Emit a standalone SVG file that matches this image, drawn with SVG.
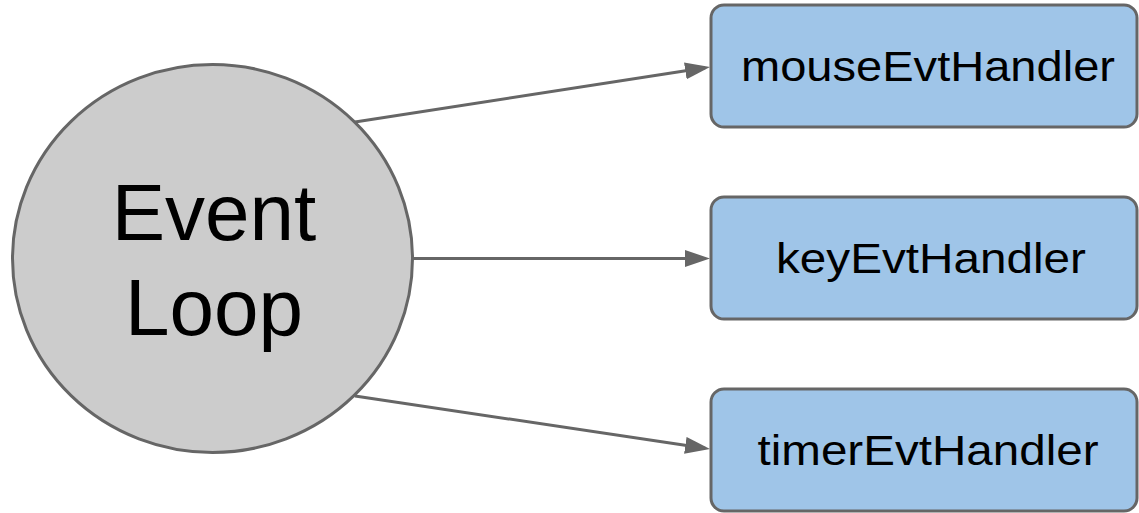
<svg xmlns="http://www.w3.org/2000/svg" width="1139" height="513" viewBox="0 0 1139 513">
  <style>
    .box { fill: #9fc5e8; stroke: #666666; stroke-width: 3; }
    .circ { fill: #cccccc; stroke: #666666; stroke-width: 3; }
    .lbl { font-family: "Liberation Sans", Arial, sans-serif; font-size: 42px; fill: #000000; text-anchor: middle; }
    .big { font-family: "Liberation Sans", Arial, sans-serif; font-size: 80px; fill: #000000; text-anchor: middle; }
    .conn { stroke: #666666; stroke-width: 3; fill: none; marker-end: url(#arrow); }
  </style>
  <defs>
    <marker id="arrow" markerUnits="userSpaceOnUse" markerWidth="26" markerHeight="18" refX="20" refY="8.5" orient="auto">
      <path d="M0,0 L25,8.5 L0,17 z" fill="#666666"/>
    </marker>
  </defs>
  <rect width="1139" height="513" fill="#ffffff"/>
  <g id="connectors">
    <line class="conn" x1="355" y1="122" x2="705.1" y2="67.8"/>
    <line class="conn" x1="413" y1="258.5" x2="705" y2="258.5"/>
    <line class="conn" x1="355" y1="396" x2="705.1" y2="448.3"/>
  </g>
  <g id="event-loop">
    <ellipse class="circ" cx="212.5" cy="258.5" rx="200" ry="194"/>
    <text class="big" x="214" y="240">Event</text>
    <text class="big" x="214" y="335">Loop</text>
  </g>
  <g id="mouse-handler">
    <rect class="box" x="711" y="5" width="426" height="122" rx="13"/>
    <text class="lbl" x="928" y="81" textLength="374" lengthAdjust="spacingAndGlyphs">mouseEvtHandler</text>
  </g>
  <g id="key-handler">
    <rect class="box" x="711" y="197" width="426" height="122" rx="13"/>
    <text class="lbl" x="931" y="273" textLength="310" lengthAdjust="spacingAndGlyphs">keyEvtHandler</text>
  </g>
  <g id="timer-handler">
    <rect class="box" x="711" y="389" width="426" height="122" rx="13"/>
    <text class="lbl" x="928" y="465" textLength="341" lengthAdjust="spacingAndGlyphs">timerEvtHandler</text>
  </g>
</svg>
